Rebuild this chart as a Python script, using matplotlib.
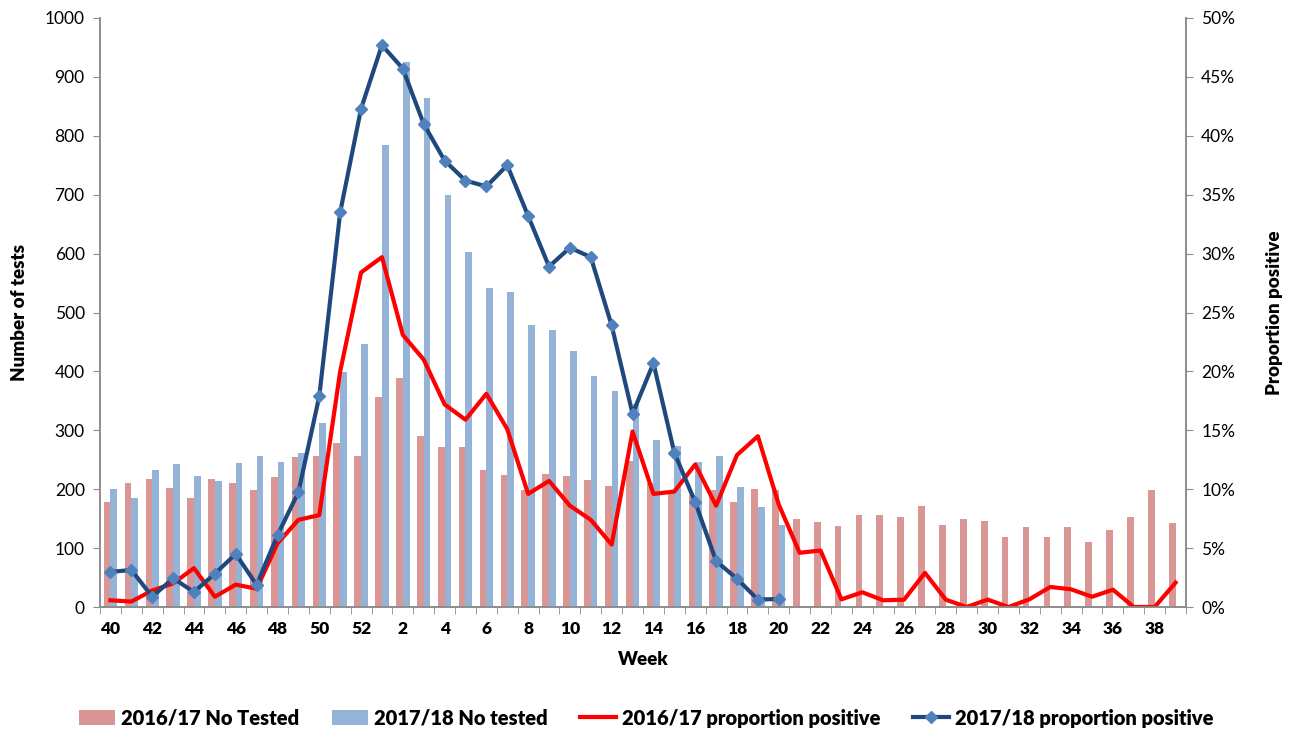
import numpy as np
import matplotlib.pyplot as plt
from matplotlib.ticker import PercentFormatter, FixedLocator

plt.rcParams['font.family'] = ['Lato', 'DejaVu Sans']

# surveillance weeks 40..52 then 1..39
weeks = list(range(40, 53)) + list(range(1, 40))

tested_1617 = [178, 210, 218, 202, 185, 218, 210, 198, 220, 254, 256, 278, 256,
               356, 389, 290, 272, 271, 232, 224, 198, 225, 222, 216, 206, 248,
               210, 195, 190, 198, 178, 200, 198, 150, 144, 138, 156, 156, 152,
               172, 140, 150, 146, 118, 136, 118, 136, 110, 130, 152, 198, 142]

tested_1718 = [200, 185, 232, 242, 222, 214, 244, 256, 246, 262, 312, 399, 446,
               784, 925, 865, 699, 603, 542, 535, 478, 470, 434, 392, 366, 345,
               284, 274, 246, 256, 204, 170, 140]

pos_1617 = [0.57, 0.46, 1.4, 2.0, 3.3, 0.87, 1.9, 1.55, 5.4, 7.4, 7.8, 20.0, 28.4,
            29.7, 23.1, 21.0, 17.2, 15.9, 18.1, 15.1, 9.6, 10.7, 8.6, 7.4, 5.3,
            14.9, 9.6, 9.8, 12.1, 8.6, 12.9, 14.5, 8.7, 4.6, 4.8, 0.65, 1.25,
            0.57, 0.62, 2.9, 0.62, 0.0, 0.63, 0.0, 0.65, 1.7, 1.5, 0.87, 1.47,
            0.0, 0.0, 2.07]

pos_1718 = [2.97, 3.15, 0.87, 2.44, 1.27, 2.83, 4.5, 1.88, 6.1, 9.75, 17.9, 33.5,
            42.3, 47.7, 45.7, 41.0, 37.9, 36.2, 35.7, 37.5, 33.2, 28.9, 30.5,
            29.7, 23.9, 16.4, 20.7, 13.1, 8.9, 3.9, 2.4, 0.63, 0.68]

x = np.arange(len(weeks))
x2 = np.arange(len(tested_1718))
w = 0.32
grey = '#8c8c8c'

fig = plt.figure(figsize=(12.93, 7.31), dpi=100)
ax1 = fig.add_axes([100 / 1293, 1 - 607 / 731, 1086 / 1293, 589 / 731])
ax2 = ax1.twinx()

b1 = ax1.bar(x - w / 2, tested_1617, width=w, color='#d99694',
             label='2016/17 No Tested', zorder=1)
b2 = ax1.bar(x2 + w / 2, tested_1718, width=w, color='#95b3d7',
             label='2017/18 No tested', zorder=1)

l1, = ax2.plot(x, np.array(pos_1617) / 100, color='#ff0000', lw=3,
               label='2016/17 proportion positive')
l2, = ax2.plot(x2, np.array(pos_1718) / 100, color='#1f497d', lw=3,
               marker='D', markersize=6, markerfacecolor='#4f81bd',
               markeredgecolor='#4f81bd', label='2017/18 proportion positive')

ax1.set_xlim(-0.5, len(weeks) - 0.5)
ax1.set_ylim(0, 1000)
ax1.set_yticks(np.arange(0, 1001, 100))
ax2.set_ylim(0, 0.5)
ax2.set_yticks(np.arange(0, 0.51, 0.05))
ax2.yaxis.set_major_formatter(PercentFormatter(1.0, decimals=0))

# week labels on every second category, tick marks between categories
ax1.set_xticks(x[::2])
ax1.set_xticklabels([str(wk) for wk in weeks[::2]], fontweight='heavy', fontsize=12.5)
ax1.tick_params(axis='x', which='major', length=0, pad=10)
ax1.xaxis.set_minor_locator(FixedLocator(np.arange(-0.5, len(weeks), 1)))
ax1.tick_params(axis='x', which='minor', length=5, color=grey, direction='out')

ax1.tick_params(axis='y', labelsize=12.5, length=5, color=grey, pad=6)
ax2.tick_params(axis='y', labelsize=12.5, length=5, color=grey, pad=6)

for ax in (ax1, ax2):
    ax.spines['top'].set_visible(False)
    for side in ('left', 'right', 'bottom'):
        ax.spines[side].set_color(grey)
        ax.spines[side].set_linewidth(1.2)

ax1.set_xlabel('Week', fontweight='heavy', fontsize=13.5, labelpad=10)
ax1.set_ylabel('Number of tests', fontweight='heavy', fontsize=13.5, labelpad=12)
ax2.set_ylabel('Proportion positive', fontweight='heavy', fontsize=13.5, labelpad=22)

fig.legend(handles=[b1, b2, l1, l2], loc='center', bbox_to_anchor=(0.5, 1 - 718 / 731),
           ncol=4, frameon=False, prop={'weight': 'heavy', 'size': 14.5},
           handlelength=1.8, handletextpad=0.3, columnspacing=1.6)

fig.savefig('out.png', dpi=100)
